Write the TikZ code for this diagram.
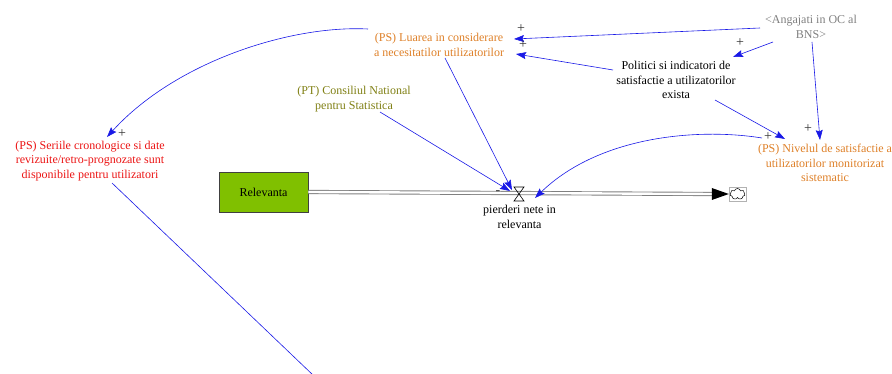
\documentclass[tikz,border=0pt]{standalone}
\usepackage{fontspec}
\setmainfont{Liberation Serif}
\usetikzlibrary{arrows.meta,shapes.symbols}
\definecolor{linkblue}{RGB}{25,25,230}
\definecolor{psorange}{RGB}{222,128,40}
\definecolor{ptolive}{RGB}{128,128,20}
\definecolor{psred}{RGB}{235,20,20}
\definecolor{shadowgray}{RGB}{128,128,128}
\definecolor{stockgreen}{RGB}{128,192,0}

\tikzset{
  lbl/.style={align=center, inner sep=0pt, font=\fontsize{12}{14.5}\selectfont},
  link/.style={draw=linkblue, line width=0.6pt, -{Stealth[length=10pt,width=7pt,inset=1.5pt]}},
  plainlink/.style={draw=linkblue, line width=0.6pt},
  sign/.style={inner sep=0pt, font=\fontsize{14}{14}\selectfont, text=black!80},
  pipe/.style={draw=gray, double=white, double distance=2.4pt, line width=0.9pt},
  stock/.style={draw=black!75, fill=stockgreen, minimum width=89pt, minimum height=40pt,
    inner sep=0pt, line width=0.8pt, font=\fontsize{12}{14.5}\selectfont}
}

\begin{document}
\begin{tikzpicture}[x=1pt,y=-1pt]
\useasboundingbox (0,0) rectangle (892,374);

% variables
\node[lbl, text=psorange] (luarea) at (439,45) {(PS) Luarea in considerare\\a necesitatilor utilizatorilor};
\node[lbl, text=ptolive] (pt) at (354,99) {(PT) Consiliul National\\pentru Statistica};
\node[lbl, text=shadowgray] (angajati) at (811,27) {<Angajati in OC al\\BNS>};
\node[lbl] (politici) at (676,80) {Politici si indicatori de\\satisfactie a utilizatorilor\\exista};
\node[lbl, text=psred] (seriile) at (90,161) {(PS) Seriile cronologice si date\\revizuite/retro-prognozate sunt\\disponibile pentru utilizatori};
\node[lbl, text=psorange] (nivelul) at (825,163) {(PS) Nivelul de satisfactie a\\utilizatorilor monitorizat\\sistematic};

% stock, flow and sink
\node[stock] (relevanta) at (263.5,192) {Relevanta};
\node[draw=gray!60, minimum width=17pt, minimum height=14pt, inner sep=0pt] (sink) at (737.5,194) {};
\node[cloud, draw=black, cloud puffs=7, aspect=1.2, minimum width=15pt, minimum height=11pt,
  inner sep=0pt, line width=0.5pt] (cloudshape) at (sink) {};
\draw[pipe] (relevanta.east) -- ([xshift=-16]sink.west);
\fill[black] (sink.west) -- ++(-17,-6) -- ++(0,12) -- cycle;
\coordinate (valve) at (519,194);
\draw[line width=0.6pt] ([shift={(-5,-7)}]valve) -- ([shift={(5,-7)}]valve)
  -- ([shift={(-5,7)}]valve) -- ([shift={(5,7)}]valve) -- cycle;
\node[lbl] (flowlbl) at (519.5,217) {pierderi nete in\\relevanta};

% causal links
\draw[link] ([shift={(-51,1)}]angajati.center) -- ([shift={(75,-6)}]luarea.center);
\draw[link] ([shift={(-63,-10)}]politici.center) -- ([shift={(77,9)}]luarea.center);
\draw[link] ([shift={(-38,15)}]angajati.center) -- ([shift={(57,-23)}]politici.center);
\draw[link] ([shift={(1,15)}]angajati.center) -- ([shift={(-5,-23)}]nivelul.center);
\draw[link] ([shift={(39,20)}]politici.center) -- ([shift={(-40,-24)}]nivelul.center);
\draw[link] ([shift={(-63,-25)}]nivelul.center) .. controls (700,128) and (600,135) .. ([shift={(16,4)}]valve);
\draw[link] ([shift={(6,13)}]luarea.center) -- ([shift={(-7,-4)}]valve);
\draw[link] ([shift={(26,13)}]pt.center) -- ([shift={(-9,-3)}]valve);
\draw[link] ([shift={(-71,-16)}]luarea.center) .. controls (290,25) and (175,62) .. ([shift={(17,-24)}]seriile.center);
\coordinate (offpage) at (314,376);
\draw[plainlink] ([shift={(22,22)}]seriile.center) -- (offpage);

% polarities
\node[sign] (s1) at (521,29) {+};
\node[sign] (s2) at (523,45) {+};
\node[sign] (s3) at (740,43) {+};
\node[sign] (s4) at (808,129) {+};
\node[sign] (s5) at (768,137) {+};
\node[sign] (s6) at (122,134) {+};
\node[sign] (s7) at (498,193) {-};
\end{tikzpicture}
\end{document}
